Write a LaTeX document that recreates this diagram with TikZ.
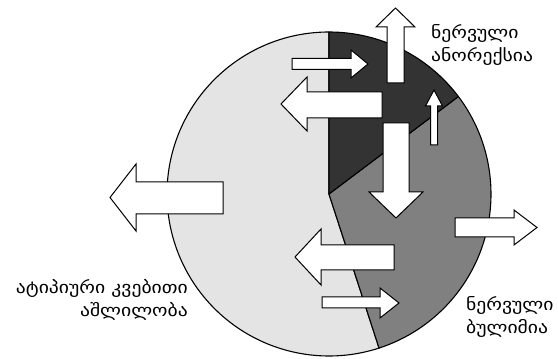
\documentclass[tikz,border=0pt]{standalone}
\usepackage{fontspec}
\newfontfamily\geofont[FakeStretch=1.17]{DejaVu Sans}
\definecolor{lightg}{HTML}{E4E4E4}
\definecolor{medg}{HTML}{808080}
\definecolor{darkg}{HTML}{333333}
\begin{document}
\begin{tikzpicture}[x=1pt,y=1pt,
  wedge/.style={draw=black,line width=1.1pt,line join=round},
  blockarrow/.style={draw=black,fill=white,line width=1pt,line join=miter},
  label/.style={font=\geofont\fontsize{16.8}{23}\selectfont,inner sep=0pt}]
\useasboundingbox (0,0) rectangle (558,359);
\coordinate (c) at (329,165);
% pie
\filldraw[wedge,fill=lightg] (c) -- +(90:162) arc[start angle=90,end angle=288,radius=162] -- cycle;
\filldraw[wedge,fill=medg] (c) -- +(-72:162) arc[start angle=-72,end angle=37,radius=162] -- cycle;
\filldraw[wedge,fill=darkg] (c) -- +(37:162) arc[start angle=37,end angle=90,radius=162] -- cycle;
% arrows
\draw[blockarrow] (387,276) -- (404,276) -- (404,332) -- (415,332) -- (395.5,351) -- (376,332) -- (387,332) -- cycle;
\draw[blockarrow] (292,289.5) -- (351,289.5) -- (351,281) -- (368,295) -- (351,309) -- (351,300.5) -- (292,300.5) -- cycle;
\draw[blockarrow] (382,267) -- (307,267) -- (307,282) -- (281,255) -- (307,228) -- (307,241) -- (382,241) -- cycle;
\draw[blockarrow] (430.5,214) -- (437.5,214) -- (437.5,253) -- (442.5,253) -- (434,269) -- (425.5,253) -- (430.5,253) -- cycle;
\draw[blockarrow] (383,236) -- (409,236) -- (409,167) -- (423,167) -- (396,141) -- (369,167) -- (383,167) -- cycle;
\draw[blockarrow] (223,177) -- (136,177) -- (136,195) -- (110,161.5) -- (136,128) -- (136,145) -- (223,145) -- cycle;
\draw[blockarrow] (455,122) -- (514,122) -- (514,114) -- (537,131.5) -- (514,149) -- (514,141) -- (455,141) -- cycle;
\draw[blockarrow] (394,89) -- (321,89) -- (321,74) -- (295,102) -- (321,130) -- (321,114) -- (394,114) -- cycle;
\draw[blockarrow] (322,51) -- (380,51) -- (380,41) -- (399,56) -- (380,71) -- (380,62) -- (322,62) -- cycle;
% labels
\node[label,anchor=west,align=left] (anorexia) at (431,314) {ნერვული\\ანორექსია};
\node[label,anchor=east,align=right] (atypical) at (188,59) {ატიპიური\ კვებითი\\აშლილობა};
\node[label,anchor=west,align=left] (bulimia) at (466,42) {ნერვული\\ბულიმია};
\end{tikzpicture}
\end{document}
